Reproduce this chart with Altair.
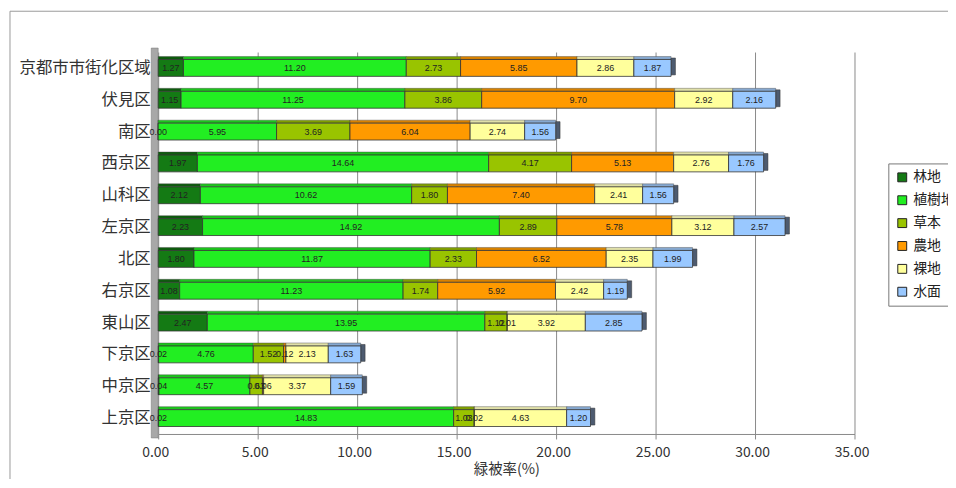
import altair as alt
import pandas as pd

areas = ["京都市市街化区域", "伏見区", "南区", "西京区", "山科区", "左京区",
         "北区", "右京区", "東山区", "下京区", "中京区", "上京区"]
categories = ["林地", "植樹地", "草本", "農地", "裸地", "水面"]
colors = ["#147a14", "#22ee22", "#99c400", "#ff9a00", "#ffff9c", "#99c8ff"]
top_colors = ["#0e5c0e", "#1cc41c", "#7f9f00", "#d98200", "#e0e0a8", "#86a8d0"]

forest  = [1.27, 1.15, 0.00, 1.97, 2.12, 2.23, 1.80, 1.08, 2.47, 0.02, 0.04, 0.02]
planted = [11.20, 11.25, 5.95, 14.64, 10.62, 14.92, 11.87, 11.23, 13.95, 4.76, 4.57, 14.83]
grass   = [2.73, 3.86, 3.69, 4.17, 1.80, 2.89, 2.33, 1.74, 1.12, 1.52, 0.63, 1.03]
farm    = [5.85, 9.70, 6.04, 5.13, 7.40, 5.78, 6.52, 5.92, 0.01, 0.12, 0.06, 0.02]
bare    = [2.86, 2.92, 2.74, 2.76, 2.41, 3.12, 2.35, 2.42, 3.92, 2.13, 3.37, 4.63]
water   = [1.87, 2.16, 1.56, 1.76, 1.56, 2.57, 1.99, 1.19, 2.85, 1.63, 1.59, 1.20]

series = [forest, planted, grass, farm, bare, water]
rows = []
for ci, (cat, vals) in enumerate(zip(categories, series)):
    for a, v in zip(areas, vals):
        rows.append({"area": a, "cat": cat, "order": ci, "value": v})
df = pd.DataFrame(rows)

FONT = "Noto Sans CJK JP"

base = alt.Chart(df).transform_stack(
    stack="value", as_=["x0", "x1"], groupby=["area"],
    sort=[alt.SortField("order", order="ascending")]
).transform_calculate(mid="(datum.x0 + datum.x1) / 2")

yenc = alt.Y("area:N", sort=areas,
             scale=alt.Scale(paddingInner=0.47, paddingOuter=0.235),
             axis=alt.Axis(title=None, labelFontSize=16.5, labelColor="#333",
                           labelFont=FONT, ticks=False, domain=False, grid=False,
                           labelPadding=8, minExtent=151, maxExtent=151))

xscale = alt.Scale(domain=[0, 35])

bars = base.mark_bar(stroke="#333", strokeWidth=0.8).encode(
    x=alt.X("x0:Q", scale=xscale,
            axis=alt.Axis(title="緑被率(%)", values=[0, 5, 10, 15, 20, 25, 30, 35],
                          format=".2f", labelFontSize=14, labelColor="#333",
                          labelFont=FONT, titleFont=FONT, titleFontSize=14.5,
                          titleFontWeight="normal", titleColor="#333",
                          titlePadding=3, labelPadding=7, tickSize=5,
                          labelFlush=False, labelOffset=-3, grid=True,
                          tickColor="#888", domainColor="#888",
                          gridColor="#8a8a8a", gridWidth=1)),
    x2="x1:Q",
    y=yenc,
    color=alt.Color("cat:N", scale=alt.Scale(domain=categories, range=colors),
                    sort=categories,
                    legend=alt.Legend(title=None, orient="none", legendX=734,
                                      legendY=112, symbolType="square",
                                      symbolSize=80, symbolStrokeColor="#222",
                                      symbolStrokeWidth=1, labelFontSize=14,
                                      labelFont=FONT, labelColor="#222",
                                      rowPadding=9, padding=7,
                                      strokeColor="#777", fillColor="white")),
    order=alt.Order("order:Q"),
)

tops = base.mark_bar(size=3, yOffset=-10, stroke="#444", strokeWidth=0.4).encode(
    x=alt.X("x0:Q", scale=xscale),
    x2="x1:Q",
    y=alt.Y("area:N", sort=areas),
    fill=alt.Fill("cat:N", scale=alt.Scale(domain=categories, range=top_colors),
                  legend=None),
)

ends = alt.Chart(df).transform_aggregate(
    total="sum(value)", groupby=["area"]
).transform_calculate(cap="datum.total + 0.22").mark_bar(
    size=17, yOffset=-1.5, color="#4d5b70", stroke="#333", strokeWidth=0.5
).encode(
    x=alt.X("total:Q", scale=xscale),
    x2="cap:Q",
    y=alt.Y("area:N", sort=areas),
)

labels = base.mark_text(fontSize=9, color="#222", font="Liberation Sans").encode(
    x=alt.X("mid:Q", scale=xscale),
    y=alt.Y("area:N", sort=areas),
    text=alt.Text("value:Q", format=".2f"),
)

one = pd.DataFrame({"k": [0]})
wall = alt.Chart(one).mark_rect(fill="#a8a8a8", stroke="#777", strokeWidth=0.5).encode(
    x=alt.value(-7), x2=alt.value(0), y=alt.value(-4), y2=alt.value(388))
frame = alt.Chart(one).mark_rect(fillOpacity=0, stroke="#999", strokeWidth=1).encode(
    x=alt.value(-149), x2=alt.value(820), y=alt.value(-41), y2=alt.value(470))

chart = alt.layer(frame, wall, tops, ends, bars, labels).resolve_scale(
    color="independent", fill="independent"
).properties(
    width=700, height=384,
    autosize=alt.AutoSizeParams(type="none"),
    padding={"left": 151, "top": 43, "right": 94, "bottom": 44},
    background="white",
).configure_view(stroke=None)

chart.save("out.html", embed_options={"renderer": "svg", "actions": False})
